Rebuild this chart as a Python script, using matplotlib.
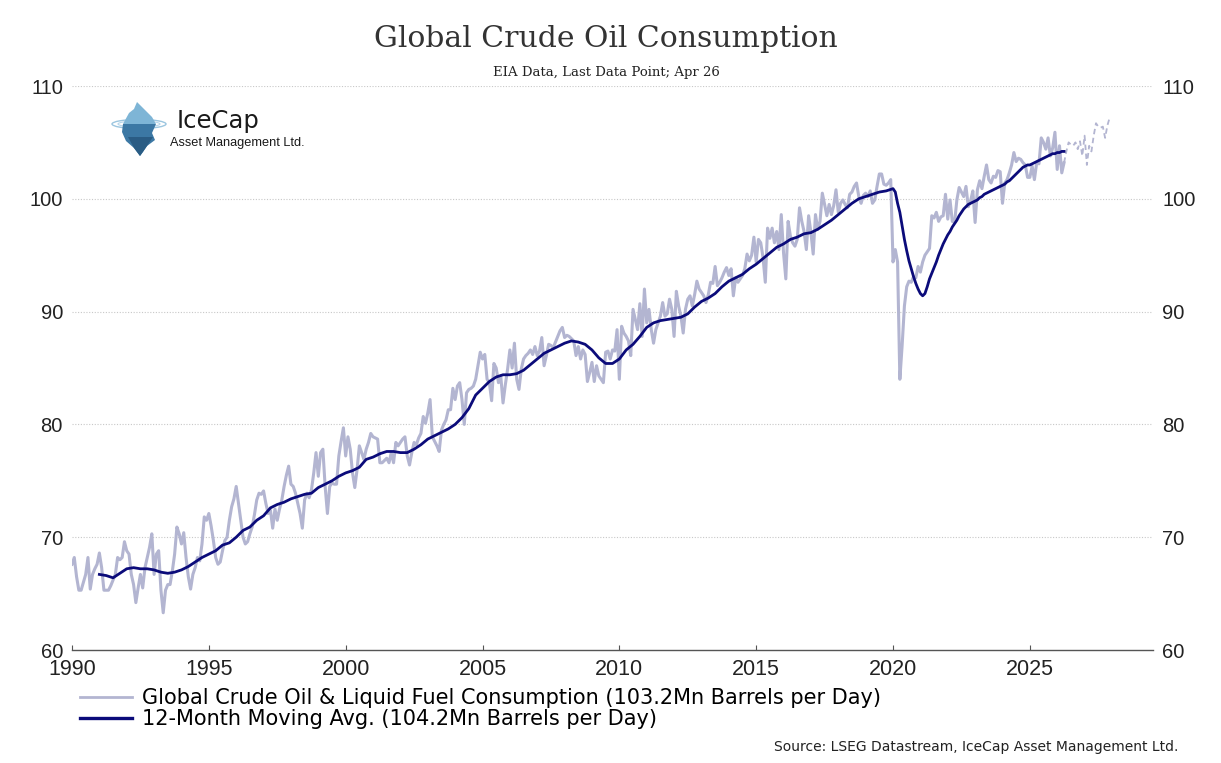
import numpy as np
import matplotlib as mpl
mpl.use('agg')
import matplotlib.pyplot as plt
from matplotlib.patches import Polygon, Ellipse
from matplotlib.lines import Line2D

##--##--##--  data (Mn barrels per day), monthly from Jan 1990  --##--##--##
start_year = 1990
consumption = [
    # 1990
    67.6, 68.2, 66.5, 65.3, 65.3, 66.0, 66.7, 68.2, 65.4, 66.7, 67.2, 67.6,
    # 1991
    68.6, 67.3, 65.3, 65.3, 65.3, 65.7, 66.2, 66.7, 68.2, 68.0, 68.2, 69.6,
    # 1992
    68.8, 68.5, 66.7, 65.8, 64.2, 65.5, 66.7, 65.5, 67.3, 68.2, 69.1, 70.3,
    # 1993
    66.7, 68.5, 68.8, 65.3, 63.3, 65.3, 65.8, 65.8, 67.0, 68.5, 70.9, 70.3,
    # 1994
    69.4, 70.4, 68.2, 66.5, 65.4, 66.7, 67.3, 68.2, 67.9, 69.4, 71.8, 71.5,
    # 1995
    72.1, 71.0, 69.7, 68.2, 67.6, 67.8, 68.8, 69.7, 70.0, 71.5, 72.7, 73.4,
    # 1996
    74.5, 73.0, 71.5, 70.0, 69.4, 69.6, 70.3, 70.9, 72.0, 73.3, 73.9, 73.8,
    # 1997
    74.1, 73.0, 72.1, 72.4, 70.8, 72.5, 71.5, 72.5, 73.3, 74.5, 75.5, 76.3,
    # 1998
    74.7, 74.5, 73.9, 73.0, 72.1, 70.8, 73.3, 73.9, 73.5, 74.2, 75.7, 77.5,
    # 1999
    75.4, 77.5, 77.8, 74.5, 72.1, 74.5, 74.8, 74.7, 74.7, 77.2, 78.5, 79.7,
    # 2000
    77.2, 78.9, 77.8, 75.7, 74.4, 76.0, 78.1, 77.5, 76.9, 77.8, 78.4, 79.2,
    # 2001
    78.9, 78.8, 78.7, 76.6, 76.6, 76.8, 77.0, 76.6, 77.5, 76.6, 78.4, 78.1,
    # 2002
    78.4, 78.7, 78.9, 77.2, 76.4, 77.5, 78.4, 78.2, 78.8, 79.2, 80.7, 80.1,
    # 2003
    81.0, 82.2, 78.9, 78.5, 78.1, 77.6, 79.5, 80.0, 80.4, 81.3, 81.3, 83.2,
    # 2004
    82.2, 83.4, 83.7, 82.2, 80.0, 82.8, 83.1, 83.2, 83.4, 84.0, 85.2, 86.4,
    # 2005
    85.8, 86.2, 84.0, 83.7, 82.1, 85.4, 85.0, 83.7, 84.3, 81.9, 83.5, 84.9,
    # 2006
    86.6, 85.0, 87.2, 84.0, 83.1, 84.9, 85.8, 86.1, 86.3, 86.6, 86.2, 86.9,
    # 2007
    86.1, 86.5, 87.7, 85.2, 86.1, 87.1, 87.0, 86.8, 87.3, 87.8, 88.3, 88.6,
    # 2008
    87.7, 87.9, 87.8, 87.6, 87.4, 86.1, 86.9, 85.8, 86.6, 86.2, 83.8, 84.6,
    # 2009
    85.5, 83.8, 85.2, 84.3, 84.0, 83.7, 86.4, 86.5, 85.8, 86.6, 86.5, 88.4,
    # 2010
    84.0, 88.7, 88.1, 87.8, 87.4, 86.1, 90.2, 89.3, 88.4, 90.7, 87.8, 92.0,
    # 2011
    89.0, 90.2, 88.4, 87.2, 88.4, 89.0, 89.6, 90.8, 89.6, 89.8, 91.1, 90.2,
    # 2012
    87.8, 91.8, 90.5, 89.6, 88.1, 90.2, 91.1, 91.4, 90.5, 91.5, 92.7, 92.0,
    # 2013
    91.7, 91.4, 90.8, 91.5, 92.6, 92.5, 94.0, 92.3, 92.6, 93.0, 93.5, 93.9,
    # 2014
    93.2, 93.8, 91.4, 93.0, 92.6, 92.9, 93.2, 93.8, 95.1, 94.5, 95.0, 96.6,
    # 2015
    94.4, 96.4, 96.1, 94.8, 92.6, 97.4, 96.5, 97.4, 96.1, 97.1, 95.5, 98.6,
    # 2016
    95.2, 92.9, 98.0, 96.7, 96.1, 95.8, 96.4, 99.2, 98.0, 97.1, 95.5, 98.5,
    # 2017
    97.0, 95.1, 98.6, 97.3, 98.0, 100.5, 99.5, 98.5, 99.5, 98.6, 99.4, 100.8,
    # 2018
    98.8, 99.6, 99.9, 99.5, 99.2, 100.4, 100.6, 101.1, 101.4, 100.2, 99.6, 100.3,
    # 2019
    100.5, 100.2, 100.7, 99.6, 99.9, 101.1, 102.2, 102.2, 101.3, 101.2, 101.4, 101.7,
    # 2020
    94.4, 95.5, 94.4, 84.0, 87.0, 90.5, 92.2, 92.7, 92.6, 93.1, 93.0, 94.0,
    # 2021
    93.5, 94.4, 95.0, 95.3, 95.6, 98.5, 98.3, 98.8, 98.0, 98.4, 98.5, 100.4,
    # 2022
    98.2, 99.9, 98.0, 97.9, 99.9, 101.0, 100.6, 100.2, 101.1, 99.3, 99.8, 100.7,
    # 2023
    97.9, 100.8, 101.6, 100.9, 102.0, 103.0, 101.7, 101.4, 102.0, 101.9, 102.5, 102.4,
    # 2024
    99.6, 101.4, 101.7, 102.3, 103.0, 104.1, 103.3, 103.6, 103.5, 103.2, 103.0, 101.9,
    # 2025
    101.9, 102.9, 101.7, 103.2, 103.1, 105.4, 105.0, 104.4, 105.4, 103.8, 104.5, 105.9,
    # 2026 (to Apr)
    102.6, 104.7, 102.3, 103.2,
]

# EIA forecast, May 2026 - Dec 2027
forecast = [104.2, 105.0, 104.8, 104.7, 105.0, 104.4, 105.1, 103.8,
            105.6, 103.0, 104.7, 104.2, 105.6, 106.7, 106.4, 106.3,
            106.4, 105.4, 106.5, 107.2]

# 12-month moving average: quarterly readings Jan 1991 - Oct 2019
ma_quarterly = [
    66.7, 66.6, 66.4, 66.8,  67.2, 67.3, 67.2, 67.2,  67.1, 66.9, 66.8, 66.9,
    67.1, 67.4, 67.8, 68.2,  68.5, 68.8, 69.3, 69.5,  70.0, 70.6, 70.9, 71.5,
    71.9, 72.6, 72.9, 73.1,  73.4, 73.6, 73.8, 73.9,  74.4, 74.7, 75.0, 75.4,
    75.7, 75.9, 76.2, 76.9,  77.1, 77.4, 77.6, 77.6,  77.5, 77.5, 77.8, 78.2,
    78.7, 79.0, 79.3, 79.6,  80.0, 80.6, 81.4, 82.6,  83.2, 83.8, 84.2, 84.4,
    84.4, 84.5, 84.8, 85.3,  85.8, 86.3, 86.6, 86.9,  87.2, 87.4, 87.3, 87.1,
    86.6, 85.9, 85.4, 85.4,  85.8, 86.6, 87.1, 87.8,  88.6, 89.0, 89.2, 89.3,
    89.4, 89.5, 89.8, 90.4,  90.9, 91.2, 91.6, 92.2,  92.7, 93.0, 93.3, 93.8,
    94.2, 94.7, 95.2, 95.7,  96.0, 96.4, 96.6, 96.9,  97.0, 97.3, 97.7, 98.1,
    98.6, 99.1, 99.6, 100.0, 100.2, 100.4, 100.6, 100.7,
]
# 12-month moving average: monthly readings Jan 2020 - Apr 2026
ma_monthly = [
    100.9, 100.6, 99.6, 98.8, 97.6, 96.4, 95.4, 94.5, 93.8, 93.1, 92.5, 92.0,
    91.6, 91.4, 91.6, 92.2, 92.9, 93.4, 93.9, 94.4, 95.0, 95.5, 96.0, 96.4,
    96.8, 97.1, 97.5, 97.8, 98.1, 98.5, 98.8, 99.1, 99.3, 99.5, 99.6, 99.7,
    99.8, 99.9, 100.1, 100.2, 100.4, 100.5, 100.6, 100.7, 100.8, 100.9, 101.0, 101.1,
    101.2, 101.3, 101.5, 101.6, 101.8, 102.0, 102.2, 102.4, 102.6, 102.8, 102.9, 103.0,
    103.0, 103.1, 103.2, 103.3, 103.4, 103.5, 103.6, 103.7, 103.8, 103.9, 104.0, 104.0,
    104.1, 104.1, 104.2, 104.2,
]

y_ticks = [60, 70, 80, 90, 100, 110]
x_ticks = [1990, 1995, 2000, 2005, 2010, 2015, 2020, 2025]

##--##--  time axes (decimal years)  --##--##
n_obs = len(consumption)
t_obs = start_year + np.arange(n_obs) / 12.0
t_fc = start_year + np.arange(n_obs - 1, n_obs + len(forecast)) / 12.0
fc_vals = [consumption[-1]] + forecast
t_ma_q = 1991 + np.arange(len(ma_quarterly)) * 3 / 12.0
t_ma_m = 2020 + np.arange(len(ma_monthly)) / 12.0
t_ma = np.concatenate([t_ma_q, t_ma_m])
ma_vals = list(ma_quarterly) + list(ma_monthly)

c_light = '#B3B5D1'
c_navy = '#0B0B7A'

##--##--##--  create figure  --##--##--##
W, H = 1221, 763
fig = plt.figure(figsize=(W / 100, H / 100), dpi=100)
fig.patch.set_facecolor('white')

ax = fig.add_axes([72 / W, 1 - 650 / H, (1153 - 72) / W, (650 - 86) / H])
ax.set_xlim(1990, 2029.5)
ax.set_ylim(60, 110)

for yv in y_ticks[1:]:
    ax.axhline(yv, color='#C8C8C8', linewidth=0.8, linestyle=(0, (1, 1.5)), zorder=0)

ax.plot(t_obs, consumption, color=c_light, linewidth=2.2, solid_joinstyle='round', zorder=2)
ax.plot(t_fc, fc_vals, color=c_light, linewidth=1.3, linestyle=(0, (3, 2)), zorder=2)
ax.plot(t_ma, ma_vals, color=c_navy, linewidth=2.0, solid_joinstyle='round', zorder=3)

for s in ['top', 'left', 'right']:
    ax.spines[s].set_visible(False)
ax.spines['bottom'].set_color('#555555')
ax.spines['bottom'].set_linewidth(1.0)

ax.set_yticks(y_ticks)
ax.set_xticks(x_ticks)
ax.tick_params(axis='y', length=0, labelsize=14.5, colors='#222222', pad=6.5,
               labelleft=True, labelright=True)
ax.tick_params(axis='x', direction='in', length=3.6, width=0.8, color='#555555',
               labelsize=15.5, labelcolor='#222222', pad=6.5)
for lab in ax.get_xticklabels() + ax.get_yticklabels():
    lab.set_family('Liberation Sans')

##--##--  titles  --##--##
fig.text(606 / W, 1 - 47 / H, 'Global Crude Oil Consumption', ha='center', va='baseline',
         fontsize=21.5, family='DejaVu Serif', color='#333333')
fig.text(606 / W, 1 - 76 / H, 'EIA Data, Last Data Point; Apr 26', ha='center', va='baseline',
         fontsize=9.5, family='DejaVu Serif', color='#222222')

##--##--  logo  --##--##
lg = fig.add_axes([100 / W, 1 - 160 / H, 220 / W, 62 / H])
lg.set_xlim(100, 320)
lg.set_ylim(160, 98)
lg.axis('off')
lg.add_patch(Ellipse((139, 124), 54, 9, fill=False, edgecolor='#9CC6E0', linewidth=1.0))
lg.add_patch(Ellipse((139, 124), 42, 6, fill=False, edgecolor='#B7D6EA', linewidth=0.8))
top = [(123, 124), (129, 113), (134, 109), (137, 102), (141, 106), (146, 111), (152, 117), (156, 124)]
bottom = [(123, 124), (156, 124), (152, 133), (155, 140), (147, 146), (143, 152), (140, 156),
          (134, 148), (126, 141), (122, 132)]
lg.add_patch(Polygon(top, closed=True, facecolor='#7EB5D6', edgecolor='none'))
lg.add_patch(Polygon(bottom, closed=True, facecolor='#3C78A4', edgecolor='none'))
lg.add_patch(Polygon([(128, 137), (153, 137), (147, 146), (140, 156), (134, 148)], closed=True,
                     facecolor='#2A5C84', edgecolor='none'))
lg.text(177, 128, 'IceCap', fontsize=17.5, family='DejaVu Sans', color='#1A1A1A', va='baseline')
lg.text(170, 146, 'Asset Management Ltd.', fontsize=9.2, family='Liberation Sans',
        color='#1A1A1A', va='baseline')

##--##--  legend & source  --##--##
h1 = Line2D([], [], color=c_light, linewidth=2.0)
h2 = Line2D([], [], color=c_navy, linewidth=2.4)
fig.legend([h1, h2],
           ['Global Crude Oil & Liquid Fuel Consumption (103.2Mn Barrels per Day)',
            '12-Month Moving Avg. (104.2Mn Barrels per Day)'],
           loc='upper left', bbox_to_anchor=(78 / W, 1 - 686 / H), frameon=False,
           prop={'family': 'DejaVu Sans', 'size': 15}, handlelength=2.5,
           handletextpad=0.45, labelspacing=0.06, borderaxespad=0, borderpad=0.1)

fig.text(1178 / W, 1 - 747 / H, 'Source: LSEG Datastream, IceCap Asset Management Ltd.',
         ha='right', va='center', fontsize=10, family='DejaVu Sans', color='#222222')

fig.savefig('out.png', dpi=100, facecolor='white')
